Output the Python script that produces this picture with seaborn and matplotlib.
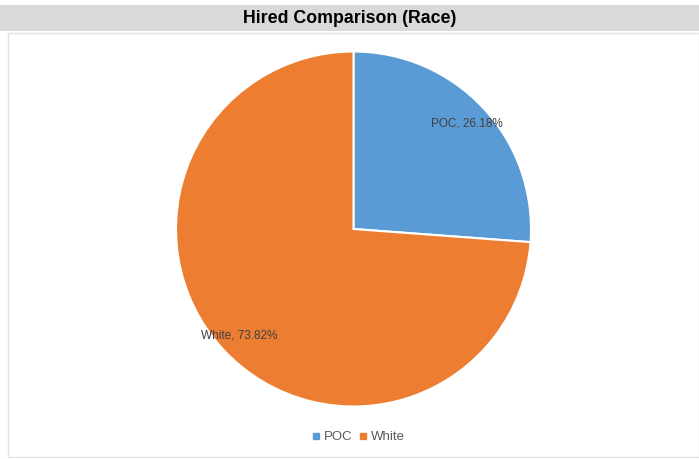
import matplotlib
matplotlib.use("Agg")
import matplotlib.pyplot as plt
from matplotlib.patches import Rectangle
from matplotlib.lines import Line2D
import seaborn as sns

sns.set_theme(style="white")
plt.rcParams["font.family"] = ["Liberation Sans", "DejaVu Sans"]

categories = ["POC", "White"]
shares = [26.18, 73.82]
colors = ["#5B9BD5", "#ED7D31"]
title = "Hired Comparison (Race)"

W, H = 699, 459
fig = plt.figure(figsize=(W / 100, H / 100), dpi=100)
fig.patch.set_facecolor("white")

# grey title banner
fig.add_artist(Rectangle((0, 1 - 31 / H), 1, 26 / H, transform=fig.transFigure,
                         facecolor="#D9D9D9", edgecolor="none", zorder=0))
fig.text(0.5, 1 - 18.5 / H, title, ha="center", va="center",
         fontsize=12.8, fontweight="bold", color="black")

# chart area frame
fig.add_artist(Rectangle((7.5 / W, 1 - 457 / H), (W - 7.5) / W, (457 - 33) / H,
                         transform=fig.transFigure, facecolor="none",
                         edgecolor="#E3E3E3", linewidth=1.0, zorder=0))

cx, cy, r = 353.5, 229, 177.5
ax = fig.add_axes([(cx - r) / W, 1 - (cy + r) / H, 2 * r / W, 2 * r / H])
wedges, _ = ax.pie(shares, colors=colors, startangle=90, counterclock=False,
                   wedgeprops=dict(edgecolor="white", linewidth=1.5))
ax.set_xlim(-1, 1)
ax.set_ylim(-1, 1)
ax.axis("off")

label_pos = [(0.64, 0.595), (-0.645, -0.6)]
for name, val, (x, y) in zip(categories, shares, label_pos):
    ax.text(x, y, f"{name}, {val:.2f}%", ha="center", va="center",
            fontsize=8.5, color="#404040")

handles = [Line2D([], [], marker="s", linestyle="none", markersize=5,
                  markerfacecolor=c, markeredgecolor=c) for c in colors]
fig.legend(handles, categories, loc="center", bbox_to_anchor=(0.51, 1 - 437 / H),
           ncol=2, frameon=False, fontsize=9.5, handletextpad=0.05,
           columnspacing=0.15, handlelength=1.2, labelcolor="#595959")

fig.savefig("out.png", dpi=100)
